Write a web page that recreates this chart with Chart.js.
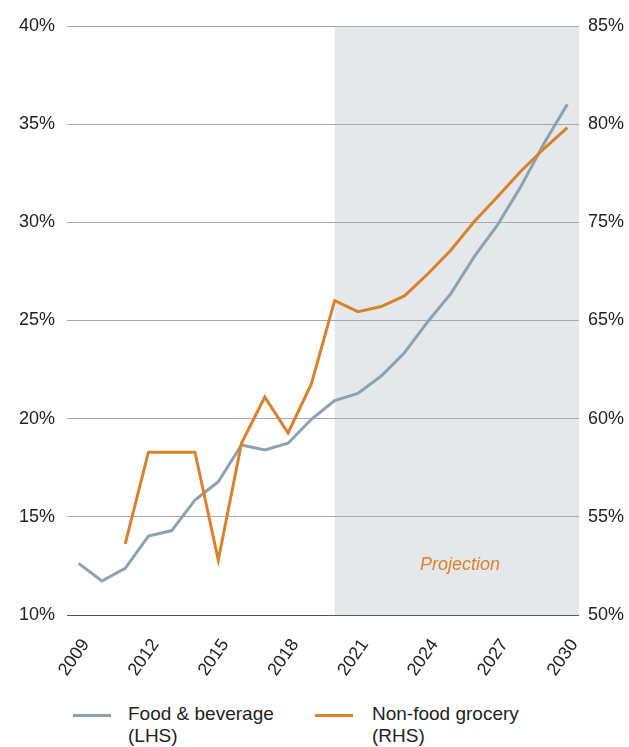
<!DOCTYPE html>
<html>
<head>
<meta charset="utf-8">
<script src="https://cdn.jsdelivr.net/npm/chart.js@4.4.1/dist/chart.umd.min.js"></script>
<style>
  html, body { margin: 0; padding: 0; background: #fff; }
  body { width: 629px; height: 747px; position: relative; font-family: "Liberation Sans", Arial, sans-serif; overflow: hidden; }
  #wrap { position: absolute; left: 0; top: 0; width: 629px; height: 700px; }
  .legend { position: absolute; top: 703px; left: 0; width: 629px; height: 44px; color: #222; font-size: 19px; line-height: 22px; }
  .item { position: absolute; top: 0; }
  .swatch { position: absolute; top: 11px; width: 38px; height: 3px; }
  .txt { position: absolute; top: 0; white-space: nowrap; }
</style>
</head>
<body>
<div id="wrap"><canvas id="c" width="629" height="700"></canvas></div>
<div class="legend">
  <div class="item" style="left:73px;"><div class="swatch" style="left:0;background:#8da2af;"></div><div class="txt" style="left:55px;">Food &amp; beverage<br>(LHS)</div></div>
  <div class="item" style="left:315px;"><div class="swatch" style="left:0;background:#d9822b;"></div><div class="txt" style="left:57px;">Non-food grocery<br>(RHS)</div></div>
</div>
<script>
const years = ['2009','2010','2011','2012','2013','2014','2015','2016','2017','2018','2019','2020','2021','2022','2023','2024','2025','2026','2027','2028','2029','2030'];
const foodBeverageLHS = [12.63, 11.73, 12.38, 14.02, 14.30, 15.86, 16.79, 18.66, 18.41, 18.75, 19.97, 20.92, 21.29, 22.17, 23.36, 24.94, 26.38, 28.25, 29.87, 31.82, 34.03, 36.01];
const nonFoodGroceryRHS = [null, null, 53.62, 58.29, 58.29, 58.29, 52.80, 58.76, 61.10, 59.27, 61.77, 66.01, 65.45, 65.71, 66.25, 67.37, 68.59, 70.04, 71.30, 72.60, 73.76, 74.82];
const leftTickLabels = ['10%','15%','20%','25%','30%','35%','40%'];
const rightTickLabels = ['50%','55%','60%','65%','75%','80%','85%'];
const projectionStart = '2020';
const projectionLabel = 'Projection';

const shadePlugin = {
  id: 'shade',
  beforeDraw(chart) {
    const { ctx, chartArea, scales } = chart;
    const x0 = scales.x.getPixelForValue(years.indexOf(projectionStart));
    ctx.save();
    ctx.fillStyle = '#e5e8eb';
    ctx.fillRect(x0, chartArea.top, chartArea.right - x0, chartArea.bottom - chartArea.top);
    ctx.restore();
  },
  afterDatasetsDraw(chart) {
    const { ctx, scales } = chart;
    const x = scales.x.getPixelForValue(years.indexOf('2025')) + 9;
    const y = scales.y.getPixelForValue(12.55);
    ctx.save();
    ctx.font = 'italic 18px "Liberation Sans", Arial, sans-serif';
    ctx.fillStyle = '#d9822b';
    ctx.textAlign = 'center';
    ctx.textBaseline = 'middle';
    ctx.fillText(projectionLabel, x, y);
    ctx.restore();
  }
};

const tickFont = { family: '"Liberation Sans", Arial, sans-serif', size: 18 };

new Chart(document.getElementById('c'), {
  type: 'line',
  data: {
    labels: years,
    datasets: [
      { label: 'Food & beverage (LHS)', data: foodBeverageLHS, yAxisID: 'y', borderColor: '#8da2af', borderWidth: 3, pointRadius: 0, tension: 0, order: 2 },
      { label: 'Non-food grocery (RHS)', data: nonFoodGroceryRHS, yAxisID: 'y1', borderColor: '#d9822b', borderWidth: 3, pointRadius: 0, tension: 0, spanGaps: false, order: 1 }
    ]
  },
  options: {
    responsive: false,
    animation: false,
    layout: { padding: { top: 26, left: 0, right: 0, bottom: 0 } },
    plugins: { legend: { display: false }, tooltip: { enabled: false } },
    scales: {
      x: {
        type: 'category',
        offset: true,
        grid: { display: false, drawTicks: false },
        border: { display: false },
        ticks: {
          font: tickFont, color: '#222', autoSkip: false, maxRotation: 55, minRotation: 55, padding: 20, labelOffset: 7,
          callback: function(v, i) { return (i % 3 === 0) ? years[i] : ''; }
        },
        afterFit(s) { s.height = 85; }
      },
      y: {
        position: 'left', min: 10, max: 40,
        grid: {
          drawTicks: false, lineWidth: 1,
          color: (c) => c.tick && c.tick.value === 10 ? '#555' : '#a9a9a9'
        },
        border: { display: false },
        ticks: { stepSize: 5, font: tickFont, color: '#222', padding: 12,
          callback: function(v, i) { return leftTickLabels[i]; } },
        afterFit(s) { s.width = 67; }
      },
      y1: {
        position: 'right', min: 50, max: 80,
        grid: { display: false, drawTicks: false },
        border: { display: false },
        ticks: { stepSize: 5, font: tickFont, color: '#222', padding: 9,
          callback: function(v, i) { return rightTickLabels[i]; } },
        afterFit(s) { s.width = 50; }
      }
    }
  },
  plugins: [shadePlugin]
});
</script>
</body>
</html>
